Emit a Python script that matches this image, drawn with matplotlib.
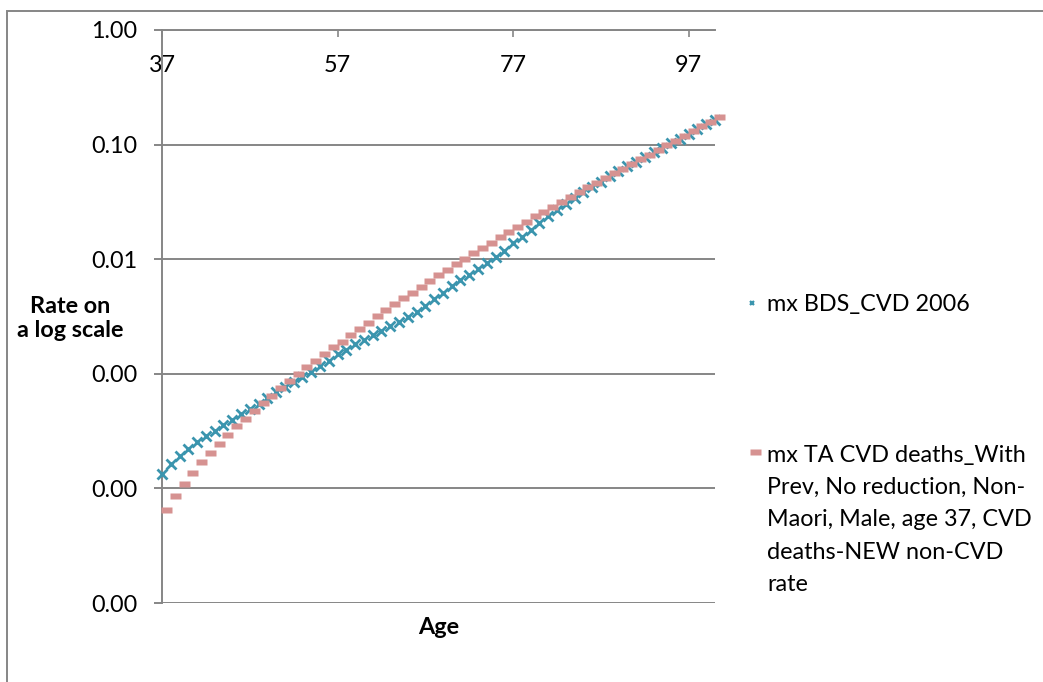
import numpy as np
import matplotlib
matplotlib.use("Agg")
import matplotlib.pyplot as plt
from matplotlib.path import Path
from matplotlib.lines import Line2D
from matplotlib.patches import Rectangle
from matplotlib.ticker import FixedLocator, FuncFormatter, NullLocator

plt.rcParams['font.family'] = ['Lato', 'DejaVu Sans']

# ages 37..100, one value per year
ages = list(range(37, 101))

bds_rate = [
    1.34e-4, 1.63e-4, 1.91e-4, 2.22e-4, 2.54e-4, 2.84e-4, 3.16e-4, 3.54e-4,
    3.94e-4, 4.42e-4, 4.89e-4, 5.47e-4, 6.18e-4, 6.87e-4, 7.70e-4, 8.47e-4,
    9.33e-4, 1.04e-3, 1.16e-3, 1.30e-3, 1.49e-3, 1.61e-3, 1.81e-3, 1.97e-3,
    2.19e-3, 2.36e-3, 2.59e-3, 2.83e-3, 3.11e-3, 3.44e-3, 3.91e-3, 4.50e-3,
    5.04e-3, 5.81e-3, 6.59e-3, 7.24e-3, 8.18e-3, 9.23e-3, 1.04e-2, 1.19e-2,
    1.38e-2, 1.56e-2, 1.80e-2, 2.09e-2, 2.39e-2, 2.69e-2, 3.04e-2, 3.45e-2,
    3.84e-2, 4.30e-2, 4.75e-2, 5.30e-2, 5.85e-2, 6.45e-2, 7.08e-2, 7.78e-2,
    8.55e-2, 9.38e-2, 1.03e-1, 1.13e-1, 1.24e-1, 1.37e-1, 1.50e-1, 1.65e-1,
]

ta_rate = [
    6.52e-5, 8.63e-5, 1.10e-4, 1.37e-4, 1.69e-4, 2.05e-4, 2.44e-4, 2.92e-4,
    3.47e-4, 4.06e-4, 4.76e-4, 5.55e-4, 6.43e-4, 7.45e-4, 8.63e-4, 9.93e-4,
    1.14e-3, 1.30e-3, 1.48e-3, 1.70e-3, 1.91e-3, 2.18e-3, 2.48e-3, 2.79e-3,
    3.17e-3, 3.58e-3, 4.04e-3, 4.56e-3, 5.11e-3, 5.72e-3, 6.42e-3, 7.25e-3,
    8.06e-3, 9.04e-3, 1.01e-2, 1.13e-2, 1.26e-2, 1.39e-2, 1.56e-2, 1.72e-2,
    1.90e-2, 2.12e-2, 2.36e-2, 2.60e-2, 2.88e-2, 3.18e-2, 3.52e-2, 3.87e-2,
    4.25e-2, 4.66e-2, 5.12e-2, 5.62e-2, 6.17e-2, 6.78e-2, 7.44e-2, 8.18e-2,
    8.98e-2, 9.86e-2, 1.08e-1, 1.19e-1, 1.31e-1, 1.44e-1, 1.58e-1, 1.73e-1,
]

age_ticks = [37, 57, 77, 97]
rate_ticks = [1e-5, 1e-4, 1e-3, 1e-2, 1e-1, 1.0]

bds_label = "mx BDS_CVD 2006"
ta_label = ("mx TA CVD deaths_With\nPrev, No reduction, Non-\n"
            "Maori, Male, age 37, CVD\ndeaths-NEW non-CVD\nrate")

blue = '#3b95ae'
pink = '#d69291'
grey = '#868686'
fsize = 16.8

# excel style dash marker, sits to the right of the point
dash = Path([(-0.05, -0.25), (1.0, -0.25), (1.0, 0.25), (-0.05, 0.25), (-0.05, -0.25)],
            [Path.MOVETO, Path.LINETO, Path.LINETO, Path.LINETO, Path.CLOSEPOLY])

W, H = 1043, 682
fig = plt.figure(figsize=(W / 100, H / 100), dpi=100)
ax = fig.add_axes([162 / W, 1 - 603 / H, (715 - 162) / W, (603 - 30) / H])

ax.plot(ages, bds_rate, ls='none', marker='x', ms=6.5, mew=2.0, color=blue,
        clip_on=False, zorder=3)
ax.plot(ages, ta_rate, ls='none', marker=dash, ms=15, mfc=pink, mec='none',
        clip_on=False, zorder=4)

ax.set_yscale('log')
ax.set_ylim(1e-5, 1)
ax.set_xlim(37, 100)

ax.yaxis.set_major_locator(FixedLocator(rate_ticks))
ax.yaxis.set_minor_locator(NullLocator())
ax.yaxis.set_major_formatter(FuncFormatter(lambda v, p: f"{v:.2f}"))
ax.yaxis.grid(True, color=grey, lw=1.4)
ax.set_axisbelow(True)

ax.xaxis.set_major_locator(FixedLocator(age_ticks))
ax.xaxis.set_minor_locator(NullLocator())
ax.xaxis.tick_top()
ax.tick_params(axis='x', direction='in', length=5, width=1.2, color=grey,
               labelsize=fsize, pad=-25.5)
for lab in ax.get_xticklabels():
    lab.set_va('center')
ax.tick_params(axis='y', direction='out', length=6, width=1.4, color=grey,
               labelsize=fsize, pad=12)

for side in ['bottom', 'right']:
    ax.spines[side].set_visible(False)
for side in ['left', 'top']:
    ax.spines[side].set_color(grey)
    ax.spines[side].set_linewidth(1.4)

ax.set_ylabel("Rate on\na log scale", fontsize=fsize, fontweight='bold',
              rotation=0, ha='center', va='center', multialignment='center')
ax.yaxis.set_label_coords(-0.166, 0.496)
ax.text(0.5, -0.042, "Age", transform=ax.transAxes, fontsize=fsize,
        fontweight='bold', ha='center', va='center')

# legend, laid out by hand like excel does it
fig.add_artist(Line2D([752 / W], [1 - 303 / H], ls='none', marker='x', ms=3.5,
                      mew=1.6, color=blue))
fig.text(767 / W, 1 - 311 / H, bds_label, fontsize=fsize, va='baseline')
fig.add_artist(Line2D([751 / W], [1 - 452 / H], ls='none', marker=dash, ms=15,
                      mfc=pink, mec='none'))
fig.text(767 / W, 1 - 445 / H, ta_label, fontsize=fsize, va='top',
         linespacing=1.66)

# outer chart border
fig.add_artist(Rectangle((7 / W, -0.05), 1.2, 1.05 - 11 / H, transform=fig.transFigure,
                         fill=False, edgecolor=grey, lw=1.4))

fig.savefig('out.png', dpi=100)
